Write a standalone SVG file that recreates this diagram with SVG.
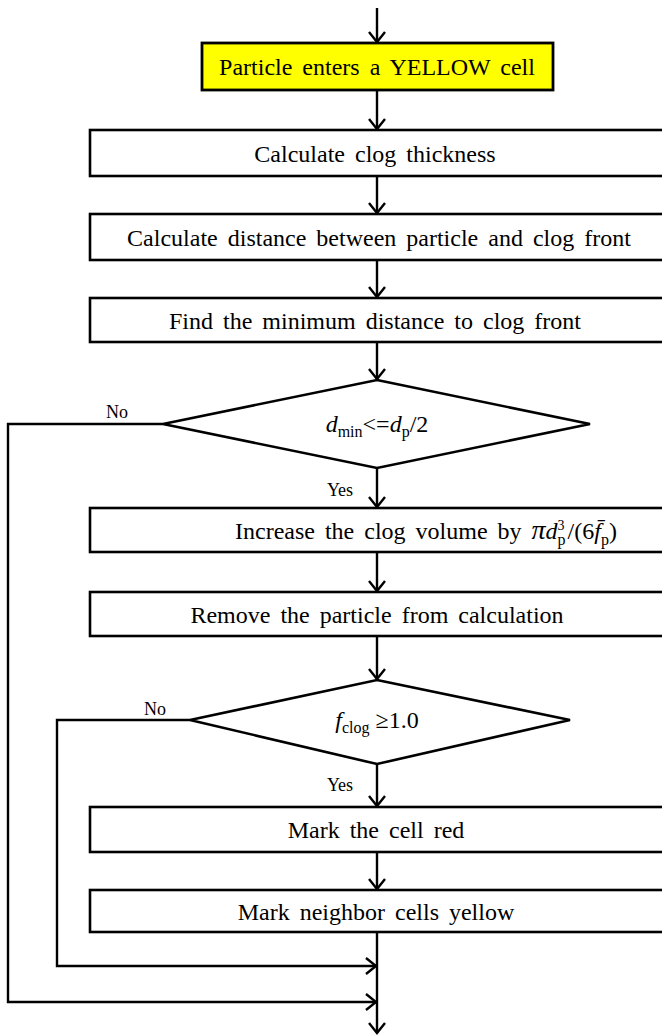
<svg xmlns="http://www.w3.org/2000/svg" width="662" height="1035" viewBox="0 0 662 1035">
<defs>
<marker id="arr" viewBox="-1 -9 13 18" refX="10" refY="0" markerWidth="13" markerHeight="18" markerUnits="userSpaceOnUse" orient="auto">
<path d="M0,-8 L10,0 L0,8" fill="none" stroke="#000" stroke-width="2.4"/>
</marker>
<style>
.box{fill:#fff;stroke:#000;stroke-width:2.6}
.yel{fill:#ffff00;stroke:#000;stroke-width:2.8}
.t{font-family:"Liberation Serif","Times New Roman",serif;font-size:24px;fill:#000;text-anchor:middle;word-spacing:4px}
.s{font-family:"Liberation Serif","Times New Roman",serif;font-size:18px;fill:#000}
.c{fill:none;stroke:#000;stroke-width:2.4}
</style>
</defs>
<rect width="662" height="1035" fill="#fff"/>
<g id="connectors">
<line class="c" x1="377" y1="8" x2="377" y2="42" marker-end="url(#arr)"/>
<line class="c" x1="377" y1="91" x2="377" y2="129" marker-end="url(#arr)"/>
<line class="c" x1="377" y1="177" x2="377" y2="213" marker-end="url(#arr)"/>
<line class="c" x1="377" y1="260" x2="377" y2="297" marker-end="url(#arr)"/>
<line class="c" x1="377" y1="342" x2="377" y2="379" marker-end="url(#arr)"/>
<line class="c" x1="377" y1="468" x2="377" y2="507" marker-end="url(#arr)"/>
<line class="c" x1="377" y1="552" x2="377" y2="591" marker-end="url(#arr)"/>
<line class="c" x1="377" y1="636" x2="377" y2="679" marker-end="url(#arr)"/>
<line class="c" x1="377" y1="764" x2="377" y2="806" marker-end="url(#arr)"/>
<line class="c" x1="377" y1="852" x2="377" y2="889" marker-end="url(#arr)"/>
<line class="c" x1="377" y1="932" x2="377" y2="1033" marker-end="url(#arr)"/>
<polyline class="c" points="163,424 8,424 8,1002 376,1002" marker-end="url(#arr)"/>
<polyline class="c" points="190,720 57,720 57,966 376,966" marker-end="url(#arr)"/>
<text class="s" x="117" y="418" text-anchor="middle">No</text>
<text class="s" x="155" y="715" text-anchor="middle">No</text>
<text class="s" x="340" y="496" text-anchor="middle">Yes</text>
<text class="s" x="340" y="791" text-anchor="middle">Yes</text>
</g>
<g id="n1">
<rect class="yel" x="202" y="43" width="351" height="47"/>
<text class="t" x="377" y="75">Particle enters a YELLOW cell</text>
</g>
<g id="n2">
<rect class="box" x="90" y="130" width="580" height="46"/>
<text class="t" x="375" y="162">Calculate clog thickness</text>
</g>
<g id="n3">
<rect class="box" x="90" y="214" width="580" height="46"/>
<text class="t" x="379" y="246">Calculate distance between particle and clog front</text>
</g>
<g id="n4">
<rect class="box" x="90" y="298" width="580" height="44"/>
<text class="t" x="375" y="329">Find the minimum distance to clog front</text>
</g>
<g id="d1">
<polygon points="377,380 590,424 377,468 163,424" fill="#fff" stroke="#000" stroke-width="2.6"/>
<text class="t" x="377" y="432" style="word-spacing:0"><tspan font-style="italic">d</tspan><tspan font-size="16" dy="5">min</tspan><tspan dy="-5">&lt;=</tspan><tspan font-style="italic">d</tspan><tspan font-size="16" dy="5">p</tspan><tspan dy="-5">/2</tspan></text>
</g>
<g id="n5">
<rect class="box" x="90" y="508" width="580" height="44"/>
<text class="t" x="235" y="539" style="text-anchor:start">Increase the clog volume by <tspan font-style="italic" font-size="28">π</tspan><tspan font-style="italic">d</tspan><tspan font-size="14" dy="-9">3</tspan><tspan font-size="16" dx="-7" dy="15">p</tspan><tspan dy="-6" dx="2">/(6</tspan><tspan font-style="italic">f̄</tspan><tspan font-size="16" dy="6">p</tspan><tspan dy="-6">)</tspan></text>
</g>
<g id="n6">
<rect class="box" x="90" y="592" width="580" height="44"/>
<text class="t" x="377" y="623">Remove the particle from calculation</text>
</g>
<g id="d2">
<polygon points="377,680 570,720 377,764 190,720" fill="#fff" stroke="#000" stroke-width="2.6"/>
<text class="t" x="377" y="728" style="word-spacing:0"><tspan font-style="italic">f</tspan><tspan font-size="16" dy="5">clog</tspan><tspan dy="-5"> ≥1.0</tspan></text>
</g>
<g id="n7">
<rect class="box" x="90" y="807" width="580" height="45"/>
<text class="t" x="376" y="838">Mark the cell red</text>
</g>
<g id="n8">
<rect class="box" x="90" y="890" width="580" height="42"/>
<text class="t" x="376" y="920">Mark neighbor cells yellow</text>
</g>
</svg>
